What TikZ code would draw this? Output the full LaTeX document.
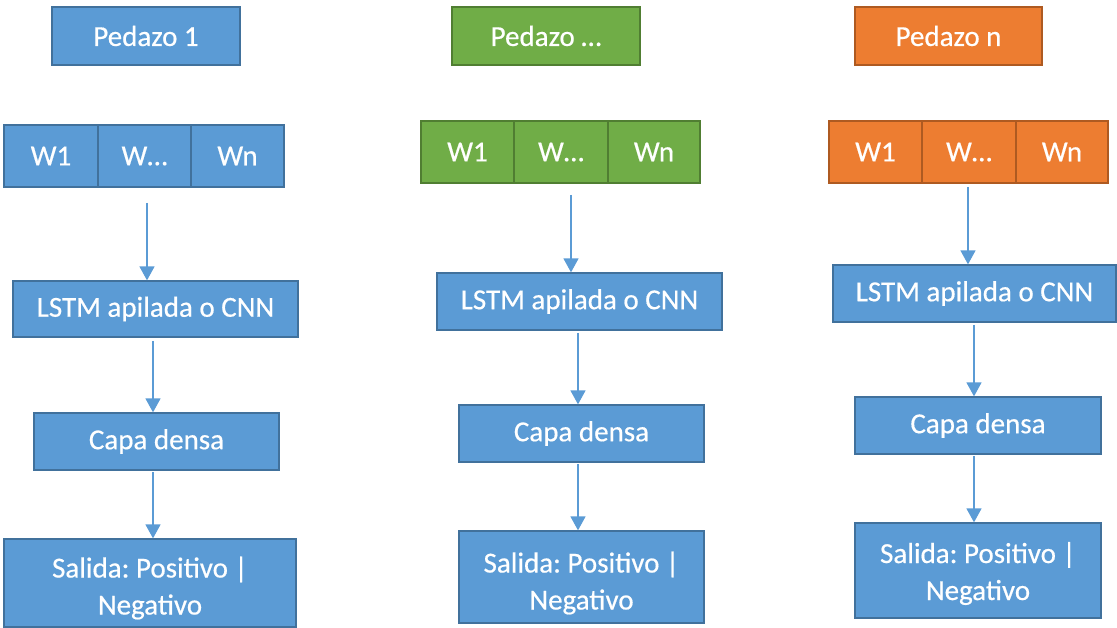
\documentclass[tikz,border=0pt]{standalone}
\usepackage{fontspec}
\setmainfont{Carlito}[FakeBold=0.5]
\usetikzlibrary{arrows.meta}
\frenchspacing
\definecolor{bfill}{HTML}{5B9BD5}
\definecolor{bdraw}{HTML}{41719C}
\definecolor{gfill}{HTML}{70AD47}
\definecolor{gdraw}{HTML}{507E32}
\definecolor{ofill}{HTML}{ED7D31}
\definecolor{odraw}{HTML}{AE5A21}
\tikzset{
  boxbase/.style={rectangle, line width=1.3pt, inner sep=0pt, text=white,
    font=\fontsize{29}{37}\selectfont, align=center},
  bluebox/.style={boxbase, fill=bfill, draw=bdraw},
  greenbox/.style={boxbase, fill=gfill, draw=gdraw},
  orangebox/.style={boxbase, fill=ofill, draw=odraw},
  flow/.style={draw=bfill, line width=1.5pt, -{Triangle[width=15pt,length=14pt]}},
  sz/.style 2 args={minimum width=#1pt, minimum height=#2pt}
}
\begin{document}
\begin{tikzpicture}[x=1pt,y=-1pt]
\useasboundingbox (0,0) rectangle (1117,628);
% ---------- column 1 ----------
\node[bluebox, sz={188}{58}] (p1) at (146,36) {Pedazo 1};
\node[bluebox, sz={94}{62}] (w11) at (51,156) {W1};
\node[bluebox, sz={93}{62}] (w12) at (144.5,156) {W…};
\node[bluebox, sz={93}{62}] (w13) at (237.5,156) {Wn};
\node[bluebox, sz={285}{56}] (l1) at (155.5,309) {LSTM apilada o CNN};
\node[bluebox, sz={245}{57}] (c1) at (156.5,441.5) {Capa densa};
\node[bluebox, sz={292}{88}] (s1) at (150,583) {\rule{0pt}{31pt}Salida: Positivo |\\Negativo};
\coordinate (a1) at (147,203);
\coordinate (b1) at (153,341);
\coordinate (d1) at (153,472);
\draw[flow] (a1) -- (a1 |- l1.north);
\draw[flow] (b1) -- (b1 |- c1.north);
\draw[flow] (d1) -- (d1 |- s1.north);
% ---------- column 2 ----------
\node[greenbox, sz={188}{58}] (p2) at (546,36) {Pedazo …};
\node[greenbox, sz={93}{62}] (w21) at (467.5,152) {W1};
\node[greenbox, sz={94}{62}] (w22) at (561,152) {W…};
\node[greenbox, sz={92}{62}] (w23) at (654,152) {Wn};
\node[bluebox, sz={285}{57}] (l2) at (579.5,301.5) {LSTM apilada o CNN};
\node[bluebox, sz={245}{57}] (c2) at (581.5,433.5) {Capa densa};
\node[bluebox, sz={245}{92}] (s2) at (581.5,577) {\rule{0pt}{33pt}Salida: Positivo |\\Negativo};
\coordinate (a2) at (571,195);
\coordinate (b2) at (578,333);
\coordinate (d2) at (578,464);
\draw[flow] (a2) -- (a2 |- l2.north);
\draw[flow] (b2) -- (b2 |- c2.north);
\draw[flow] (d2) -- (d2 |- s2.north);
% ---------- column 3 ----------
\node[orangebox, sz={187}{58}] (p3) at (948.5,36) {Pedazo n};
\node[orangebox, sz={93}{62}] (w31) at (875.5,152) {W1};
\node[orangebox, sz={94}{62}] (w32) at (969,152) {W…};
\node[orangebox, sz={92}{62}] (w33) at (1062,152) {Wn};
\node[bluebox, sz={283}{57}] (l3) at (974.5,293.5) {LSTM apilada o CNN};
\node[bluebox, sz={246}{57}] (c3) at (978,425.5) {Capa densa};
\node[bluebox, sz={246}{95}] (s3) at (978,570.5) {\rule{0pt}{27pt}Salida: Positivo |\\Negativo};
\coordinate (a3) at (968,187);
\coordinate (b3) at (974,325);
\coordinate (d3) at (974,456);
\draw[flow] (a3) -- (a3 |- l3.north);
\draw[flow] (b3) -- (b3 |- c3.north);
\draw[flow] (d3) -- (d3 |- s3.north);
\end{tikzpicture}
\end{document}
